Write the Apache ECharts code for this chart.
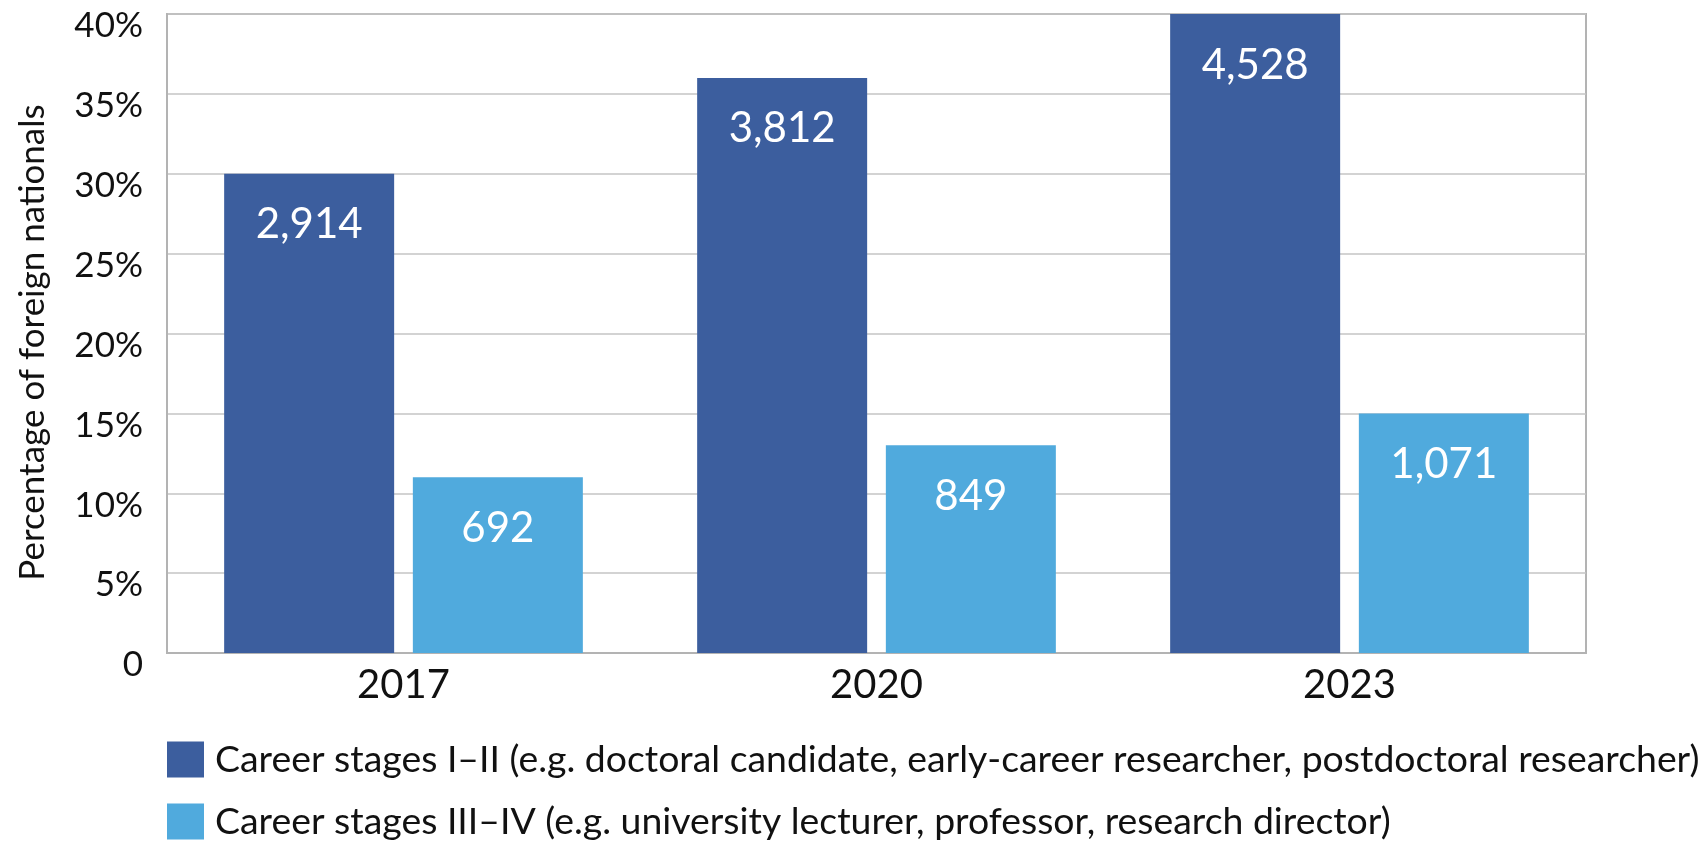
<!DOCTYPE html>
<html>
<head>
<meta charset="utf-8">
<script src="https://cdn.jsdelivr.net/npm/echarts@6/dist/echarts.min.js"></script>
<style>
  html, body { margin: 0; padding: 0; background: #fff; }
  #chart { width: 1701px; height: 842px; }
</style>
</head>
<body>
<div id="chart"></div>
<script>
// data
var years = ['2017', '2020', '2023']
var earlyPct = [30, 36, 40]          // career stages I-II, % foreign nationals
var seniorPct = [11, 13, 15]         // career stages III-IV
var earlyCount = ['2,914', '3,812', '4,528']
var seniorCount = ['692', '849', '1,071']
var seriesNames = [
  'Career stages I\u2013II (e.g. doctoral candidate, early-career researcher, postdoctoral researcher)',
  'Career stages III\u2013IV (e.g. university lecturer, professor, research director)'
]

var font = 'Lato, "Noto Sans", sans-serif'
var chart = echarts.init(document.getElementById('chart'))

function barSeries(name, values, counts, color) {
  return {
    name: name,
    type: 'bar',
    barWidth: 170,
    barGap: '11%',
    itemStyle: { color: color },
    label: {
      show: true,
      position: 'insideTop',
      distance: 30,
      color: '#fff',
      fontFamily: font,
      fontSize: 42,
      formatter: function (p) { return counts[p.dataIndex] }
    },
    data: values
  }
}

// one legend per row so the long first entry does not wrap
function legendRow(name, top) {
  return {
    left: 167,
    top: top,
    padding: 0,
    icon: 'rect',
    itemWidth: 37,
    itemHeight: 36,
    textStyle: { fontFamily: font, fontSize: 37.4, color: '#111', padding: [0, 0, 0, 6] },
    data: [name]
  }
}

chart.setOption({
  backgroundColor: '#fff',
  animation: false,
  grid: {
    left: 167,
    right: 115,
    top: 14,
    bottom: 189,
    show: true,
    borderColor: '#b3b3b3',
    borderWidth: 2
  },
  legend: [
    legendRow(seriesNames[0], 741),
    legendRow(seriesNames[1], 803)
  ],
  xAxis: {
    type: 'category',
    data: years,
    axisTick: { show: false },
    axisLine: { lineStyle: { color: '#b3b3b3', width: 2 } },
    axisLabel: { fontFamily: font, fontSize: 40, color: '#111', margin: 12 }
  },
  yAxis: {
    type: 'value',
    min: 0,
    max: 40,
    interval: 5,
    name: 'Percentage of foreign nationals',
    nameLocation: 'middle',
    nameGap: 117,
    nameTextStyle: { fontFamily: font, fontSize: 35, color: '#111', padding: [0, 18, 0, 0] },
    axisLine: { show: true, lineStyle: { color: '#b3b3b3', width: 2 } },
    axisTick: { show: false },
    splitLine: { lineStyle: { color: '#c4c4c4', width: 1.5 } },
    axisLabel: {
      fontFamily: font,
      fontSize: 35,
      color: '#111',
      margin: 24,
      verticalAlign: 'top',
      lineHeight: 24,
      formatter: function (v) { return v === 0 ? '0' : v + '%' }
    }
  },
  series: [
    barSeries(seriesNames[0], earlyPct, earlyCount, '#3c5e9e'),
    barSeries(seriesNames[1], seniorPct, seniorCount, '#50aadd')
  ]
})
</script>
</body>
</html>
